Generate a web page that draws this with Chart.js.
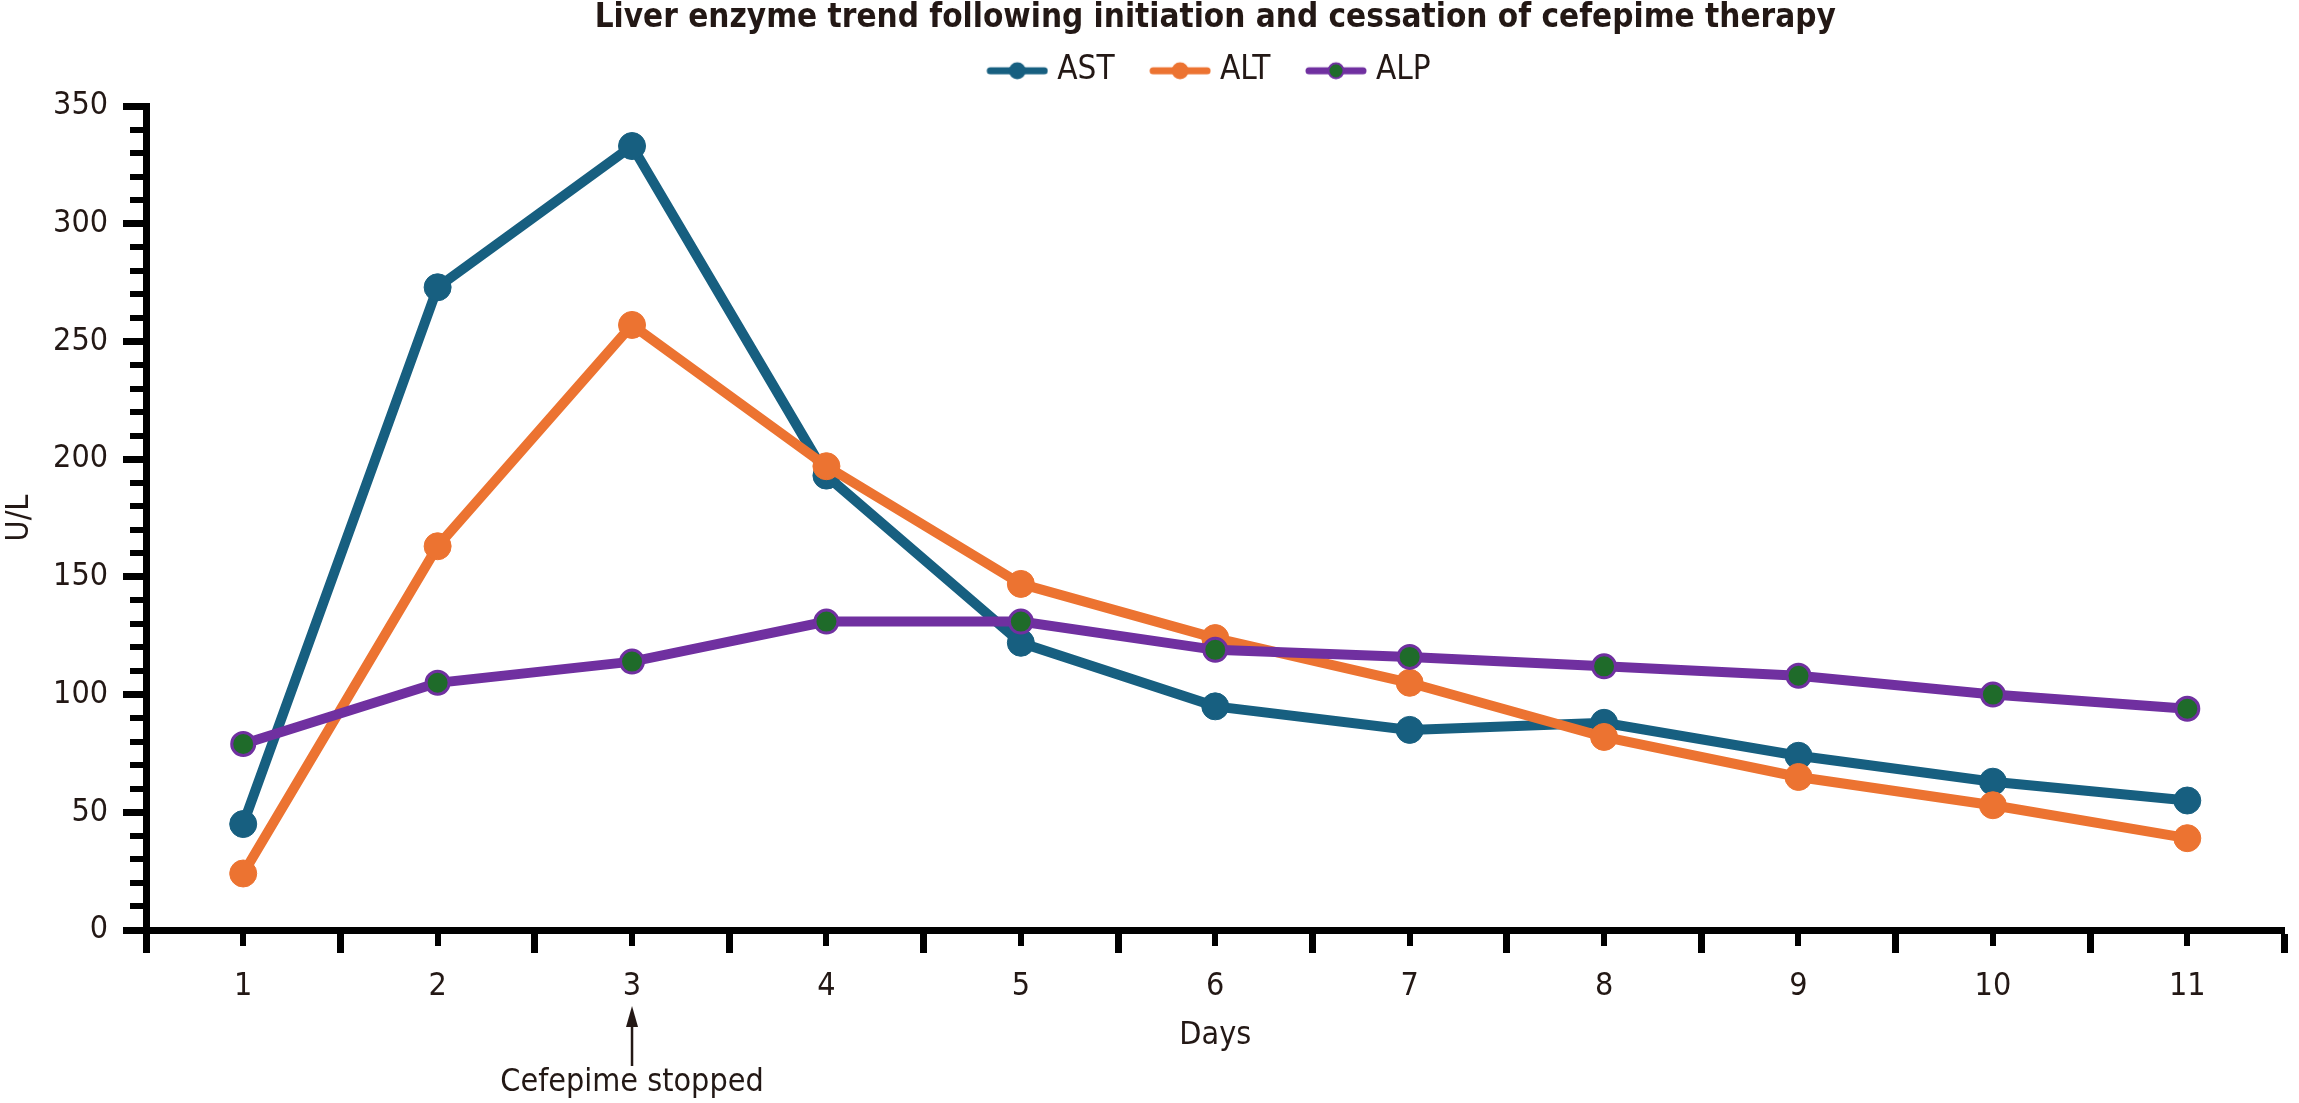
<!DOCTYPE html>
<html lang="en">
<head>
  <meta charset="UTF-8">
  <title>Liver enzyme trend</title>
  <script src="https://cdn.jsdelivr.net/npm/chart.js"></script>
  <style>
    html, body { margin: 0; padding: 0; background: #fff; }
    #wrap { width: 2299px; height: 1103px; }
  </style>
</head>
<body>
  <div id="wrap"><canvas id="enzymeChart"></canvas></div>

  <script>
    // values (U/L per day)
    var days = ['1', '2', '3', '4', '5', '6', '7', '8', '9', '10', '11'];
    var astValues = [45, 273, 333, 193, 122, 95, 85, 88, 74, 63, 55];
    var altValues = [24, 163, 257, 197, 147, 124, 105, 82, 65, 53, 39];
    var alpValues = [79, 105, 114, 131, 131, 119, 116, 112, 108, 100, 94];
    var yMax = 350;
    var yMajorStep = 50;
    var yMinorStep = 10;
    var stopDayIndex = 2; // day 3
    var stopLabel = 'Cefepime stopped';

    var ink = '#231815';
    var astColor = '#175f80';
    var altColor = '#ec7331';
    var alpColor = '#7030a0';
    var alpFill = '#1f6b2a';
    var fontFamily = "'DejaVu Sans Condensed', 'DejaVu Sans', sans-serif";

    var topShift = 8.7;
    var legendShift = -19;

    // legend swatch: line with a dot, transparent margin on the left
    function legendSwatch(lineColor, dotFill, dotBorder) {
      var margin = 32, len = 62, h = 26;
      var c = document.createElement('canvas');
      c.width = margin + len;
      c.height = h;
      var g = c.getContext('2d');
      g.strokeStyle = lineColor;
      g.lineWidth = 7;
      g.lineCap = 'round';
      g.beginPath();
      g.moveTo(margin + 4, h / 2);
      g.lineTo(margin + len - 4, h / 2);
      g.stroke();
      g.beginPath();
      g.arc(margin + len / 2, h / 2, dotBorder ? 7.5 : 8.5, 0, Math.PI * 2);
      g.fillStyle = dotFill;
      g.fill();
      if (dotBorder) {
        g.lineWidth = 2;
        g.strokeStyle = dotBorder;
        g.stroke();
      }
      return c;
    }
    var swatches = [
      legendSwatch(astColor, astColor, null),
      legendSwatch(altColor, altColor, null),
      legendSwatch(alpColor, alpFill, alpColor)
    ];

    var extras = {
      id: 'extras',
      afterLayout: function(chart) {
        var a = chart.chartArea;
        var t = chart.titleBlock;
        if (t) {
          t.left = a.left; t.right = a.right; t.width = a.right - a.left;
          t.top -= topShift; t.bottom -= topShift;
        }
        var l = chart.legend;
        if (l) {
          l.left = a.left + legendShift; l.right = a.right + legendShift; l.width = a.right - a.left;
          l.top -= topShift; l.bottom -= topShift;
        }
      },
      afterDraw: function(chart) {
        var ctx = chart.ctx;
        var a = chart.chartArea;
        var xs = chart.scales.x, ys = chart.scales.y;
        ctx.save();
        ctx.strokeStyle = '#000';
        ctx.lineWidth = 6;
        ctx.lineCap = 'butt';
        // minor ticks on y
        for (var v = 0; v <= yMax; v += yMinorStep) {
          if (v % yMajorStep === 0) continue;
          var py = Math.round(ys.getPixelForValue(v));
          ctx.beginPath();
          ctx.moveTo(a.left, py);
          ctx.lineTo(a.left - 16, py);
          ctx.stroke();
        }
        // short ticks at each day
        for (var i = 0; i < days.length; i++) {
          var px = Math.round(xs.getPixelForValue(i));
          ctx.beginPath();
          ctx.moveTo(px, a.bottom);
          ctx.lineTo(px, a.bottom + 16);
          ctx.stroke();
        }
        // arrow marking cessation
        var ax = xs.getPixelForValue(stopDayIndex);
        ctx.strokeStyle = ink;
        ctx.fillStyle = ink;
        ctx.lineWidth = 2.5;
        ctx.beginPath();
        ctx.moveTo(ax, 1066);
        ctx.lineTo(ax, 1020);
        ctx.stroke();
        ctx.beginPath();
        ctx.moveTo(ax, 1006);
        ctx.lineTo(ax - 6, 1027);
        ctx.lineTo(ax + 6, 1027);
        ctx.closePath();
        ctx.fill();
        ctx.font = '32px ' + fontFamily;
        ctx.textAlign = 'center';
        ctx.textBaseline = 'middle';
        ctx.fillText(stopLabel, ax, 1083);
        ctx.restore();
      }
    };

    var ctx = document.getElementById('enzymeChart').getContext('2d');
    new Chart(ctx, {
      type: 'line',
      data: {
        labels: days,
        datasets: [
          {
            label: 'AST',
            data: astValues,
            borderColor: astColor,
            backgroundColor: astColor,
            borderWidth: 10,
            pointRadius: 13.5,
            pointBorderWidth: 1,
            pointBackgroundColor: astColor,
            pointBorderColor: astColor,
            order: 3
          },
          {
            label: 'ALT',
            data: altValues,
            borderColor: altColor,
            backgroundColor: altColor,
            borderWidth: 10,
            pointRadius: 13.5,
            pointBorderWidth: 1,
            pointBackgroundColor: altColor,
            pointBorderColor: altColor,
            order: 2
          },
          {
            label: 'ALP',
            data: alpValues,
            borderColor: alpColor,
            backgroundColor: alpColor,
            borderWidth: 10,
            pointRadius: 11.5,
            pointBorderWidth: 3,
            pointBackgroundColor: alpFill,
            pointBorderColor: alpColor,
            order: 1
          }
        ]
      },
      options: {
        responsive: true,
        maintainAspectRatio: false,
        devicePixelRatio: 1,
        animation: false,
        layout: { padding: { top: topShift, right: 8, bottom: 48, left: 0 } },
        elements: { line: { tension: 0 } },
        scales: {
          x: {
            offset: true,
            afterFit: function(s) { s.height = 125; },
            grid: { offset: true, drawOnChartArea: false, color: '#000', tickLength: 23, tickWidth: 7 },
            border: { color: '#000', width: 7 },
            ticks: { color: ink, padding: 14, font: { family: fontFamily, size: 32 } },
            title: { display: true, text: 'Days', color: ink, padding: { top: 0, bottom: 0 }, font: { family: fontFamily, size: 32 } }
          },
          y: {
            min: 0,
            max: yMax,
            afterFit: function(s) { s.width = 146; },
            grid: { drawOnChartArea: false, color: '#000', tickLength: 23, tickWidth: 7 },
            border: { color: '#000', width: 7 },
            ticks: { stepSize: yMajorStep, color: ink, padding: 15, font: { family: fontFamily, size: 32 } },
            title: { display: true, text: 'U/L', color: ink, padding: { top: 0, bottom: 0 }, font: { family: fontFamily, size: 32 } }
          }
        },
        plugins: {
          title: {
            display: true,
            text: 'Liver enzyme trend following initiation and cessation of cefepime therapy',
            color: ink,
            padding: { top: 0, bottom: 8 },
            font: { family: fontFamily, size: 33, weight: 'bold', lineHeight: 1.1 }
          },
          legend: {
            position: 'top',
            labels: {
              color: ink,
              usePointStyle: true,
              pointStyleWidth: 79,
              padding: 10,
              font: { family: fontFamily, size: 33 },
              sort: function(a, b) { return a.datasetIndex - b.datasetIndex; },
              generateLabels: function(chart) {
                var items = Chart.defaults.plugins.legend.labels.generateLabels(chart);
                items.forEach(function(it) { it.pointStyle = swatches[it.datasetIndex]; });
                return items;
              }
            }
          },
          tooltip: { enabled: false }
        }
      },
      plugins: [extras]
    });
  </script>
</body>
</html>
